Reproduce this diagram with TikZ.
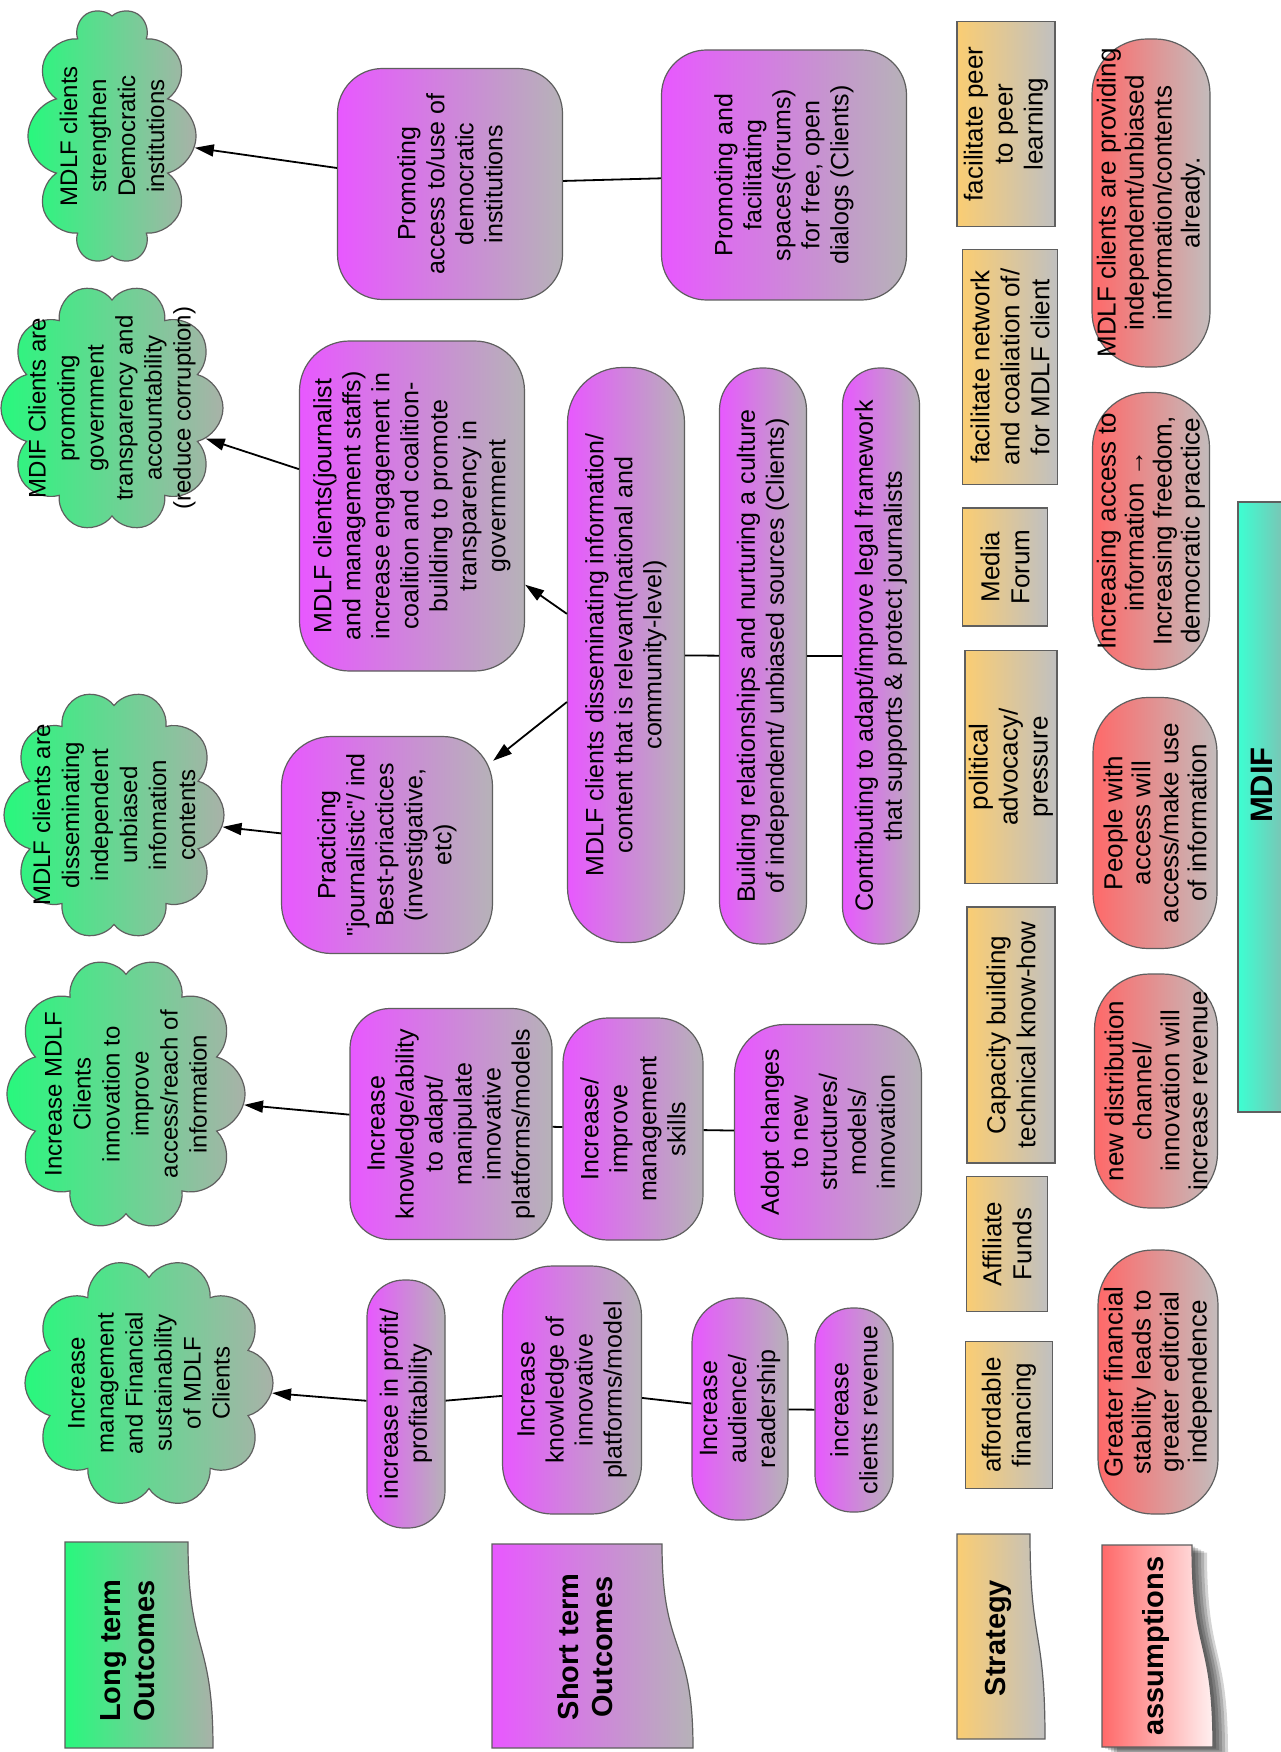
\documentclass[tikz,border=0pt]{standalone}
\usepackage{fontspec}
\setmainfont{Liberation Sans}[Ligatures=TeXOff]
\usepackage{tikz}
\usetikzlibrary{shapes.symbols,arrows.meta}

\definecolor{ltgreen}{RGB}{40,248,125}
\definecolor{ltgrey}{RGB}{168,178,168}
\definecolor{stmag}{RGB}{232,88,255}
\definecolor{stgrey}{RGB}{182,178,184}
\definecolor{strorange}{RGB}{250,205,115}
\definecolor{strgrey}{RGB}{192,192,192}
\definecolor{asred}{RGB}{255,105,105}
\definecolor{asgrey}{RGB}{195,188,188}
\definecolor{aspale}{RGB}{255,240,240}
\definecolor{mdcyan}{RGB}{60,255,210}
\definecolor{mdgrey}{RGB}{135,185,175}
\definecolor{edgegrey}{RGB}{95,95,95}

\begin{document}
\begin{tikzpicture}[x=1pt,y=-1pt,
    every node/.style={rotate=90,align=center,inner sep=0pt},
    cloudbox/.style={cloud,cloud puffs=10,cloud ignores aspect,draw=edgegrey,line width=1.2pt,left color=ltgreen,right color=ltgrey},
    cloudtext/.style={font=\fontsize{24}{29}\selectfont},
    stbox/.style={rectangle,draw=edgegrey,line width=1.2pt,left color=stmag,right color=stgrey,font=\fontsize{25}{29}\selectfont},
    stratbox/.style={rectangle,draw=edgegrey,line width=1.2pt,left color=strorange,right color=strgrey,font=\fontsize{26}{30}\selectfont},
    assbox/.style={rectangle,rounded corners=55pt,draw=edgegrey,line width=1.2pt,left color=asred,right color=asgrey,font=\fontsize{26}{28}\selectfont},
    lbltext/.style={font=\bfseries\fontsize{29}{34}\selectfont},
    link/.style={line width=1.8pt},
    arr/.style={line width=1.8pt,-{Triangle[length=19pt,width=12pt]}}]

  \fill[white] (0,0) rectangle (1280,1752);
  \useasboundingbox (0,0) rectangle (1280,1752);

  % long term outcomes
  \node (ltA) at (112,136) [cloudbox,minimum width=256,minimum height=168] {};
  \node (ltB) at (112,408) [cloudbox,minimum width=248,minimum height=222] {};
  \node (ltC) at (114,815) [cloudbox,minimum width=250,minimum height=220] {};
  \node (ltD) at (126,1094) [cloudbox,minimum width=273,minimum height=238] {};
  \node (ltE) at (149,1383) [cloudbox,minimum width=250,minimum height=248] {};

  \node (ltAtxt) at (ltA) [cloudtext] {MDLF clients\\strengthen\\Democratic\\institutions};
  \node (ltBtxt) at (ltB) [cloudtext] {MDIF Clients are\\promoting\\government\\transparency and\\accountability\\(reduce corruption)};
  \node (ltCtxt) at (ltC) [cloudtext] {MDLF clients are\\disseminating\\independent\\unbiased\\infomation\\contents};
  \node (ltDtxt) at (ltD) [cloudtext] {Increase MDLF\\Clients\\innovation to\\improve\\access/reach of\\information};
  \node (ltEtxt) at (ltE) [cloudtext] {Increase\\management\\and Financial\\sustainability\\of MDLF\\Clients};

  % short term outcomes
  \node (pacc) at (450,184) [stbox,minimum width=231,minimum height=225,rounded corners=45pt] {Promoting\\access to/use of\\democratic\\institutions};
  \node (pfac) at (784,175) [stbox,minimum width=250,minimum height=245,rounded corners=45pt] {Promoting and\\facilitating\\spaces(forums)\\for free, open\\dialogs (Clients)};
  \node (pjour) at (412,506) [stbox,minimum width=330,minimum height=225,rounded corners=50pt] {MDLF clients(journalist\\and management staffs)\\increase engagement in\\coalition and coalition-\\building to promote\\transparency in\\government};
  \node (pprac) at (387,845) [stbox,minimum width=217,minimum height=211,rounded corners=50pt] {Practicing\\"journalistic"/ ind\\Best-priactices\\(investigative,\\etc)};
  \node (pdiss) at (626,655) [stbox,minimum width=575,minimum height=117,rounded corners=55pt] {MDLF clients disseminating information/\\content that is relevant(national and\\community-level)};
  \node (pbuild) at (763,656) [stbox,minimum width=576,minimum height=87,rounded corners=42pt] {Building relationships and nurturing a culture\\of independent/ unbiased sources (Clients)};
  \node (pcontr) at (881,656) [stbox,minimum width=576,minimum height=77,rounded corners=37pt] {Contributing to adapt/improve legal framework\\that supports \& protect journalists};
  \node (pknow) at (451,1124) [stbox,minimum width=231,minimum height=202,rounded corners=40pt] {Increase\\knowledge/ability\\to adapt/\\manipulate\\innovative\\platforms/models};
  \node (pmgmt) at (633,1129) [stbox,minimum width=222,minimum height=140,rounded corners=45pt] {Increase/\\improve\\management\\skills};
  \node (padopt) at (828,1132) [stbox,minimum width=215,minimum height=187,rounded corners=50pt] {Adopt changes\\to new\\structures/\\models/\\innovation};
  \node (pprof) at (406,1404) [stbox,minimum width=248,minimum height=78,rounded corners=37pt] {increase in profit/\\profitability};
  \node (pkninn) at (572,1390) [stbox,minimum width=248,minimum height=139,rounded corners=50pt] {Increase\\knowledge of\\innovative\\platforms/model};
  \node (paud) at (740,1409) [stbox,minimum width=222,minimum height=96,rounded corners=45pt] {Increase\\audience/\\readership};
  \node (prev) at (854,1410) [stbox,minimum width=204,minimum height=78,rounded corners=37pt] {increase\\clients revenue};

  % strategy
  \node (speer) at (1006,124) [stratbox,minimum width=205,minimum height=98] {facilitate peer\\to peer\\learning};
  \node (snet) at (1010,367) [stratbox,minimum width=235,minimum height=95] {facilitate network\\and coaliation of/\\for MDLF client};
  \node (smedia) at (1005,567) [stratbox,minimum width=118,minimum height=85] {Media\\Forum};
  \node (spol) at (1011,767) [stratbox,minimum width=233,minimum height=92] {political\\advocacy/\\pressure};
  \node (scap) at (1011,1035) [stratbox,minimum width=256,minimum height=88] {Capacity building\\technical know-how};
  \node (saff) at (1007,1244) [stratbox,minimum width=135,minimum height=81] {Affiliate\\Funds};
  \node (sfin) at (1009,1415) [stratbox,minimum width=147,minimum height=87] {affordable\\financing};

  % assumptions
  \node (aprov) at (1151,203) [assbox,minimum width=328,minimum height=118] {MDLF clients are providing\\independent/unbiased\\information/contents\\already.};
  \node (aincr) at (1151,531) [assbox,minimum width=277,minimum height=117] {Increasing access to\\information →\\Increasing freedom,\\democratic practice};
  \node (apeop) at (1155,823) [assbox,minimum width=251,minimum height=124] {People with\\access will\\access/make use\\of information};
  \node (anew) at (1156,1091) [assbox,minimum width=234,minimum height=123] {new distribution\\channel/\\innovation will\\increase revenue};
  \node (agreat) at (1158,1382) [assbox,minimum width=264,minimum height=120] {Greater financial\\stability leads to\\greater editorial\\independence};

  \node (mdif) at (1265,807) [rectangle,draw=edgegrey,line width=1.2pt,left color=mdcyan,right color=mdgrey,minimum width=610,minimum height=54] {};
  \node (mdiftxt) at (1262,785) [font=\bfseries\fontsize{31}{34}\selectfont] {MDIF};

  % row labels
  \draw[edgegrey,line width=1.2pt,left color=ltgreen,right color=ltgrey]
    (65,1542) -- (188,1542) .. controls (188,1655) and (213,1635) .. (213,1748) -- (65,1748) -- cycle;
  \draw[edgegrey,line width=1.2pt,left color=stmag,right color=stgrey]
    (492,1544) -- (662,1544) .. controls (662,1656) and (693,1636) .. (693,1748) -- (492,1748) -- cycle;
  \draw[edgegrey,line width=1.2pt,left color=strorange,right color=strgrey]
    (957,1534) -- (1030,1534) .. controls (1030,1646) and (1045,1626) .. (1045,1739) -- (957,1739) -- cycle;
  \foreach \s in {3,6,9,12,15}
    \fill[black,opacity=0.17,shift={(\s,\s/2)}]
      (1102,1545) -- (1192,1545) .. controls (1192,1656) and (1213,1636) .. (1213,1747) -- (1102,1747) -- cycle;
  \draw[edgegrey,line width=1.2pt,left color=asred,right color=aspale]
    (1102,1545) -- (1192,1545) .. controls (1192,1656) and (1213,1636) .. (1213,1747) -- (1102,1747) -- cycle;

  \node (ltlbl) at (128,1651) [lbltext] {Long term\\Outcomes};
  \node (stlbl) at (585,1647) [lbltext] {Short term\\Outcomes};
  \node (strlbl) at (998,1638) [lbltext] {Strategy};
  \node (aslbl) at (1156,1646) [lbltext] {assumptions};

  % connectors
  \draw[arr] (pacc) -- (ltA);
  \draw[arr] (pjour) -- (ltB);
  \draw[arr] (pprac) -- (ltC);
  \draw[arr] (pknow) -- (ltD);
  \draw[arr] (pprof) -- (ltE);
  \draw[arr] (pdiss) -- (pjour);
  \draw[arr] (pdiss) -- (pprac);
  \draw[link]
    (pacc) -- (pfac)
    (pdiss) -- (pbuild)
    (pbuild) -- (pcontr)
    (pknow) -- (pmgmt)
    (pmgmt) -- (padopt)
    (pprof) -- (pkninn)
    (pkninn) -- (paud)
    (paud) -- (prev);
\end{tikzpicture}
\end{document}
